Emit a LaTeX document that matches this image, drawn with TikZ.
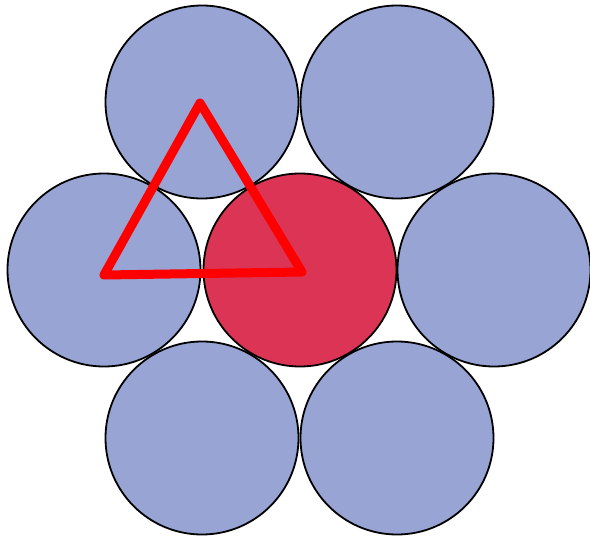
\documentclass[tikz,border=0pt]{standalone}
\usepackage{tikz}
\usetikzlibrary{positioning,calc}
\definecolor{discblue}{RGB}{152,164,212}
\definecolor{discred}{RGB}{220,52,84}
\tikzset{
    disc/.style={circle, draw=black, line width=1.8pt, fill=discblue, minimum size=193pt, inner sep=0pt},
    cell/.style={draw=red, line width=9pt, line join=round, line cap=round}
}

\begin{document}
\begin{tikzpicture}[x=1pt, y=-1pt]
    \useasboundingbox (0,0) rectangle (590,541);
    % Outer ring of discs
    \foreach \name/\x/\y in {tl/202/102, tr/397/102, ml/104/270, mr/494/270, bl/202/438, br/397/438} {
        \node[disc] (\name) at (\x,\y) {};
    }
    % Central disc
    \node[disc, fill=discred] (mc) at (300,270) {};
    % Triangle between centres
    \coordinate (pa) at (200,103);
    \coordinate (pb) at (104,275);
    \coordinate (pc) at (302,272);
    \draw[cell] (pa) -- (pb) -- (pc) -- cycle;
\end{tikzpicture}
\end{document}
